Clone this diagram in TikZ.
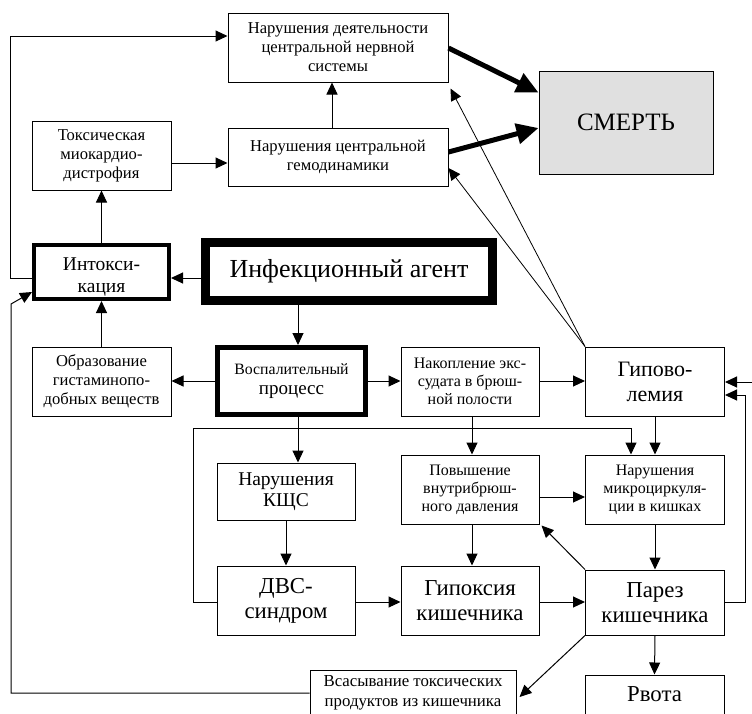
\documentclass[tikz,border=0pt]{standalone}
\usepackage{fontspec}
\setmainfont{Liberation Serif}
\newfontfamily\tnr{Liberation Serif}
\usetikzlibrary{arrows.meta}
\definecolor{dgray}{RGB}{224,224,224}
\newcommand\fsz[2]{\tnr\fontsize{#1}{#2}\selectfont}
\tikzset{
  box/.style={draw, line width=1pt, inner sep=0pt, align=center, font=\fsz{16.6}{19}},
  smalltxt/.style={font=\fsz{16}{18}},
  bigtxt/.style={font=\fsz{22.8}{25}},
  arr/.style={-{Triangle[length=12pt,width=11pt]}, line width=1pt},
  fat/.style={-{Triangle[length=22pt,width=20pt]}, line width=5pt},
}
\begin{document}
\begin{tikzpicture}[x=1pt,y=-1pt]
\useasboundingbox (0,0) rectangle (752,713);
\clip (0,0) rectangle (752,713);
% nodes
\node[box, minimum width=220, minimum height=69] (cns) at (338,47.5) {Нарушения деятельности\\центральной нервной\\системы};
\node[box, minimum width=139, minimum height=69] (tox) at (101.5,155.5) {Токсическая\\миокардио-\\дистрофия};
\node[box, minimum width=220, minimum height=58] (hemo) at (338,157) {Нарушения центральной\\гемодинамики};
\node[box, fill=dgray, minimum width=174, minimum height=103, font=\fsz{25}{29}] (smert) at (626,122.5) {СМЕРТЬ};
\node[box, line width=4pt, minimum width=135, minimum height=54, font=\fsz{19.5}{22}] (intox) at (101.5,272) {\raisebox{0pt}[22pt]{Интокси-}\\кация};
\node[box, line width=9pt, minimum width=287, minimum height=58, font=\fsz{26}{30}] (infect) at (349,271.5) {Инфекционный агент};
\node[box, minimum width=139, minimum height=69] (obraz) at (101.5,381.5) {Образование\\гистаминопо-\\добных веществ};
\node[box, line width=5pt, minimum width=148, minimum height=67, font=\fsz{15.8}{20}] (vospal) at (291.5,381) {Воспалительный\\{\fsz{19}{20}процесс}};
\node[box, smalltxt, minimum width=138, minimum height=69] (nakop) at (470,381.5) {Накопление экс-\\судата в брюш-\\ной полости};
\node[box, font=\fsz{22}{25}, minimum width=139, minimum height=69] (hypo) at (655,381.5) {Гипово-\\лемия};
\node[box, font=\fsz{19.5}{21}, minimum width=138, minimum height=57] (kshs) at (286,491.5) {Нарушения\\КЩС};
\node[box, smalltxt, minimum width=138, minimum height=69] (povysh) at (470,489.5) {Повышение\\внутрибрюш-\\ного давления};
\node[box, smalltxt, minimum width=139, minimum height=69] (mikro) at (655,489.5) {Нарушения\\микроциркуля-\\ции в кишках};
\node[box, bigtxt, minimum width=138, minimum height=69] (dvs) at (286,600.5) {ДВС-\\синдром};
\node[box, bigtxt, minimum width=138, minimum height=69] (gipox) at (470,600.5) {Гипоксия\\кишечника};
\node[box, bigtxt, minimum width=139, minimum height=65] (parez) at (655,602.5) {Парез\\кишечника};
\node[box, font=\fsz{16.8}{20}, minimum width=206, minimum height=46] (vsas) at (413,693) {Всасывание токсических\\продуктов из кишечника};
\node[box, bigtxt, minimum width=139, minimum height=60] (rvota) at (654.5,705) {\raisebox{4pt}[0pt][0pt]{Рвота}};
% helper coordinates
\coordinate (lt) at (10,36);
\coordinate (lb) at (11,693);
\coordinate (lk) at (11,304);
\coordinate (dl) at (193,428);
\coordinate (rx) at (745,395);
\coordinate (rr) at (753,382);
% connectors
\draw[arr] ([yshift=-6pt]intox.west) -| (lt) -- (cns.west |- lt);
\draw[arr] ([yshift=-7.5pt]tox.east) -- ([yshift=-6pt]hemo.west);
\draw[arr] ([xshift=-6pt]hemo.north) -- ([xshift=-6pt]cns.south);
\draw[arr] (intox.north) -- (tox.south);
\draw[fat] ([yshift=-0.5pt]cns.east) -- ([yshift=30pt]smert.west);
\draw[fat] ([yshift=5pt]hemo.east) -- ([yshift=-5.5pt]smert.west);
\draw[arr, line width=0.8pt] (hypo.north west) -- ([shift={(2pt,-6pt)}]cns.south east);
\draw[arr, line width=0.8pt] (hypo.north west) -- ([yshift=-11pt]hemo.east);
\draw[arr] ([yshift=-6.5pt]infect.west) -- ([yshift=-6pt]intox.east);
\draw[arr] ([xshift=-51pt]infect.south) -- ([xshift=6.5pt]vospal.north);
\draw[arr] (obraz.north) -- (intox.south);
\draw[arr] (vospal.west) -- (obraz.east |- vospal.west);
\draw[arr] (vospal.east) -- (nakop.west |- vospal.east);
\draw[arr] (nakop.east |- vospal.east) -- (hypo.west |- vospal.east);
\draw[arr] ([xshift=6.5pt]vospal.south) -- ([xshift=12pt]kshs.north);
\draw[arr] (kshs.south) -- (dvs.north);
\draw[arr] ([yshift=-1.5pt]dvs.west) -| (dl) -| ([xshift=-24pt]mikro.north);
\draw[arr] ([xshift=2pt]nakop.south) -- ([xshift=2pt]povysh.north);
\draw[arr] (hypo.south) -- (mikro.north);
\draw[arr] ([yshift=-7.5pt]povysh.east) -- ([yshift=-7.5pt]mikro.west);
\draw[arr] ([xshift=2pt]povysh.south) -- ([xshift=2pt]gipox.north);
\draw[arr] ([yshift=-1.5pt]dvs.east) -- ([yshift=-1.5pt]gipox.west);
\draw[arr] ([yshift=-1.5pt]gipox.east) -- ([yshift=0.5pt]parez.west);
\draw[arr] (mikro.south) -- (parez.north);
\draw[arr] (parez.north west) -- ([shift={(2pt,-1pt)}]povysh.south east);
\draw[arr] (parez.south west) -- ([shift={(3pt,-4pt)}]vsas.east);
\draw[arr] (parez.south) -- (rvota.north);
\draw[arr] (parez.east) -| (rx) -- (hypo.east |- rx);
\draw[arr] ([yshift=-12pt]rvota.east) -| (rr) -- (hypo.east |- rr);
\draw[arr] (vsas.west) -- (lb) -- (lk) -- ([yshift=-20pt]intox.west);
\end{tikzpicture}
\end{document}
